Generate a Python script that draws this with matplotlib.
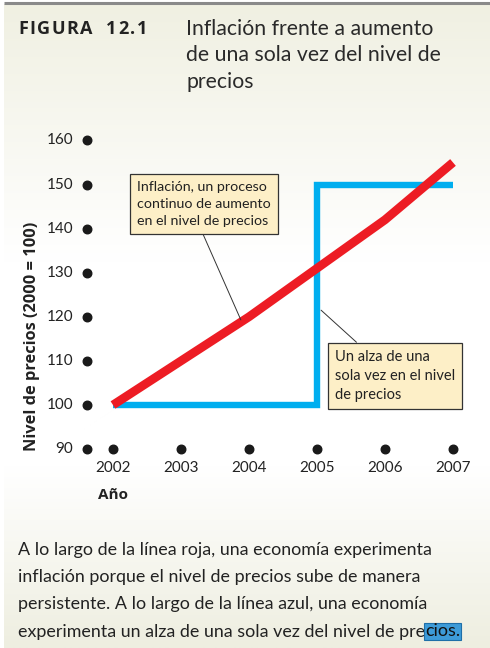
import numpy as np
import matplotlib
matplotlib.use("Agg")
import matplotlib.pyplot as plt
from matplotlib.colors import LinearSegmentedColormap

plt.rcParams['font.family'] = ['Lato', 'DejaVu Sans']
BOLD = ['Open Sans', 'DejaVu Sans']

# ---- data ----
years = [2002, 2003, 2004, 2005, 2006, 2007]
red_prices = [100, 110, 120, 131, 142, 155]          # continuous inflation
blue_years = [2002, 2005, 2005, 2007]
blue_prices = [100, 100, 150, 150]                   # one-time rise
y_ticks = [90, 100, 110, 120, 130, 140, 150, 160]
x_tick_labels = ['2002', '2003', '2004', '2005', '2006', '2007']

RED = '#ED1C24'
BLUE = '#00AEEF'
BOX = '#FDEFC7'

W, H = 490, 648
fig = plt.figure(figsize=(W / 100, H / 100), dpi=100)

# ---- background gradient ----
bg = fig.add_axes([0, 0, 1, 1])
bg.set_xlim(0, W)
bg.set_ylim(H, 0)
bg.axis('off')
stops = [(0.0, '#f0f0e2'), (0.40, '#ffffff'), (0.72, '#ffffff'), (1.0, '#eeeee0')]
cmap = LinearSegmentedColormap.from_list('bgg', stops)
grad = np.linspace(0, 1, 256).reshape(-1, 1)
bg.imshow(grad, cmap=cmap, aspect='auto', extent=[4, W, H, 4], zorder=0)
bg.plot([4, W], [2.5, 2.5], color='#8a8a8a', lw=2.2, solid_capstyle='butt', zorder=1)

# ---- title ----
prev = bg.text(18, 34, 'F', fontsize=13, fontweight='bold', family=BOLD,
               color='#222222', va='baseline', ha='left')
for ch in 'IGURA  12.1':
    prev = bg.annotate(ch, xy=(1, 0), xycoords=prev, xytext=(1.1, 0),
                       textcoords='offset points', fontsize=13, fontweight='bold',
                       family=BOLD, color='#222222', va='bottom', ha='left')
bg.text(186, 19, 'Inflación frente a aumento\nde una sola vez del nivel de\nprecios',
        fontsize=15.3, color='#2a2a2a', va='top', ha='left', linespacing=1.4)

# ---- caption ----
cap_lines = ['A lo largo de la línea roja, una economía experimenta',
             'inflación porque el nivel de precios sube de manera',
             'persistente. A lo largo de la línea azul, una economía']
cap_base = [555, 582, 609.5]
for line, yb in zip(cap_lines, cap_base):
    bg.text(18, yb, line, fontsize=12.9, color='#222222', va='baseline', ha='left')
t1 = bg.text(18, 636.5, 'experimenta un alza de una sola vez del nivel de pre',
             fontsize=12.9, color='#222222', va='baseline', ha='left')
bg.annotate('cios.', xy=(1, 0), xycoords=t1, va='bottom', ha='left',
            fontsize=12.9, color='#111111',
            bbox=dict(boxstyle='square,pad=0.05', fc='#3d9bd8', ec='#1f6fa8', lw=0.8))

# ---- main axes ----
left_px, right_px = 79, 473.4
top_px, bot_px = 131.6, 457.9
ax = fig.add_axes([left_px / W, 1 - bot_px / H, (right_px - left_px) / W,
                   (bot_px - top_px) / H])
ax.set_xlim(2001.5, 2007.3)
ax.set_ylim(88, 162)
ax.patch.set_alpha(0)
for s in ax.spines.values():
    s.set_visible(False)
ax.set_xticks([])
ax.set_yticks([])

x_dot = 2001.618
ax.scatter([x_dot] * len(y_ticks), y_ticks, s=38, color='#1a1a1a', zorder=3, clip_on=False)
ax.scatter(years, [90] * len(years), s=38, color='#1a1a1a', zorder=3, clip_on=False)
for v in y_ticks:
    ax.annotate(str(v), xy=(x_dot, v), xytext=(-10, 0), textcoords='offset points',
                ha='right', va='center', fontsize=11, color='#222222')
for yr, lab in zip(years, x_tick_labels):
    ax.annotate(lab, xy=(yr, 90), xytext=(0, -13.5), textcoords='offset points',
                ha='center', va='center', fontsize=11, color='#222222')

ax.plot(blue_years, blue_prices, color=BLUE, lw=4.6, solid_joinstyle='miter',
        solid_capstyle='butt', zorder=2)
ax.plot(years, red_prices, color=RED, lw=6.3, solid_capstyle='butt',
        solid_joinstyle='round', zorder=2.5)

fig.text(113 / W, 1 - 495 / H, 'Año', fontsize=11, fontweight='bold', family=BOLD,
         ha='center', va='center', color='#222222')
fig.text(32 / W, 1 - 336 / H, 'Nivel de precios (2000 = 100)', fontsize=11.8,
         fontweight='bold', family=BOLD, rotation=90, ha='center', va='center',
         color='#222222')

# ---- annotation boxes ----
ax.annotate('Inflación, un proceso\ncontinuo de aumento\nen el nivel de precios',
            xy=(2003.88, 119.3), xytext=(137, H - 181), textcoords='figure pixels',
            ha='left', va='top', fontsize=10.3, color='#222222', linespacing=1.5,
            bbox=dict(boxstyle='square,pad=0.5', fc=BOX, ec='#333333', lw=0.9),
            arrowprops=dict(arrowstyle='-', color='#333333', lw=0.7,
                            relpos=(0.47, 0), shrinkA=0, shrinkB=0), zorder=4)
ax.annotate('Un alza de una\nsola vez en el nivel\nde precios',
            xy=(2005.06, 121.5), xytext=(335, H - 350), textcoords='figure pixels',
            ha='left', va='top', fontsize=10.5, color='#222222', linespacing=1.45,
            bbox=dict(boxstyle='square,pad=0.5', fc=BOX, ec='#333333', lw=0.9),
            arrowprops=dict(arrowstyle='-', color='#333333', lw=0.7,
                            relpos=(0.25, 1), shrinkA=0, shrinkB=0), zorder=4)

fig.savefig('out.png', dpi=100)
